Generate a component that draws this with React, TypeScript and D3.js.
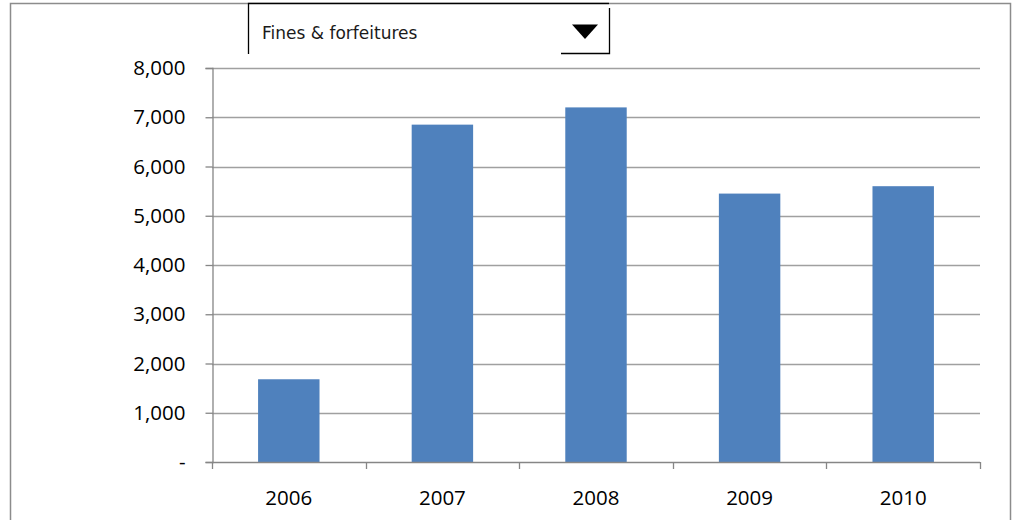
import React, { useEffect, useRef } from 'react'
import * as d3 from 'd3'

const years = ['2006', '2007', '2008', '2009', '2010']
const fines = [1680, 6850, 7200, 5450, 5600]
const yTicks = [0, 1000, 2000, 3000, 4000, 5000, 6000, 7000, 8000]
const selectedSeries = 'Fines & forfeitures'

const App: React.FC = () => {
  const svgRef = useRef<SVGSVGElement | null>(null)

  useEffect(() => {
    if (!svgRef.current) {
      return
    }

    const svg = d3.select(svgRef.current)
    const width = 1019
    const height = 520
    const plot = { left: 212, right: 980, top: 68, bottom: 462 }
    const font = "'Open Sans', 'DejaVu Sans', sans-serif"

    svg.attr('width', width).attr('height', height)
    svg.selectAll('*').remove()

    // outer chart frame
    svg
      .append('rect')
      .attr('x', 10.5)
      .attr('y', 3.5)
      .attr('width', 1000)
      .attr('height', 530)
      .attr('fill', '#ffffff')
      .attr('stroke', '#8c8c8c')
      .attr('stroke-width', 1.5)

    const xScale = d3
      .scaleBand()
      .domain(years)
      .range([plot.left, plot.right])
      .paddingInner(0.6)
      .paddingOuter(0.3)

    const yScale = d3.scaleLinear().domain([0, 8000]).range([plot.bottom, plot.top])

    // gridlines
    svg
      .append('g')
      .selectAll('line')
      .data(yTicks.filter((t) => t > 0))
      .enter()
      .append('line')
      .attr('x1', plot.left)
      .attr('x2', plot.right)
      .attr('y1', (d) => Math.round(yScale(d)) + 0.5)
      .attr('y2', (d) => Math.round(yScale(d)) + 0.5)
      .attr('stroke', '#a0a0a0')
      .attr('stroke-width', 1.3)

    // bars
    svg
      .append('g')
      .selectAll('rect')
      .data(years)
      .enter()
      .append('rect')
      .attr('x', (d) => xScale(d) ?? 0)
      .attr('y', (d, i) => yScale(fines[i]))
      .attr('width', xScale.bandwidth())
      .attr('height', (d, i) => plot.bottom - yScale(fines[i]))
      .attr('fill', '#4f81bd')

    // y axis
    const yAxis = svg
      .append('g')
      .attr('transform', `translate(${plot.left + 0.5},0)`)
      .call(
        d3
          .axisLeft(yScale)
          .tickValues(yTicks)
          .tickSize(7)
          .tickPadding(20)
          .tickFormat((d) => (d === 0 ? '-' : d3.format(',')(d as number)))
      )
    yAxis.select('.domain').attr('stroke', '#868686').attr('stroke-width', 1.3)
    yAxis.selectAll('.tick line').attr('stroke', '#868686').attr('stroke-width', 1.3)
    yAxis
      .selectAll('.tick text')
      .attr('font-family', font)
      .attr('font-size', 20.5)
      .attr('fill', '#000000')

    // x axis: ticks sit between categories
    const boundaries = d3.range(years.length + 1).map((i) => plot.left + i * xScale.step())
    const xAxis = svg.append('g')
    xAxis
      .append('line')
      .attr('x1', plot.left)
      .attr('x2', plot.right)
      .attr('y1', plot.bottom + 0.5)
      .attr('y2', plot.bottom + 0.5)
      .attr('stroke', '#868686')
      .attr('stroke-width', 1.3)
    xAxis
      .selectAll('line.tick')
      .data(boundaries)
      .enter()
      .append('line')
      .attr('class', 'tick')
      .attr('x1', (d) => Math.round(d) + 0.5)
      .attr('x2', (d) => Math.round(d) + 0.5)
      .attr('y1', plot.bottom)
      .attr('y2', plot.bottom + 7)
      .attr('stroke', '#868686')
      .attr('stroke-width', 1.3)
    xAxis
      .selectAll('text')
      .data(years)
      .enter()
      .append('text')
      .attr('x', (d) => (xScale(d) ?? 0) + xScale.bandwidth() / 2)
      .attr('y', 505)
      .attr('text-anchor', 'middle')
      .attr('font-family', font)
      .attr('font-size', 20.5)
      .attr('fill', '#000000')
      .text((d) => d)

    // dropdown control
    const dropdown = svg.append('g')
    dropdown
      .append('rect')
      .attr('x', 248)
      .attr('y', 3)
      .attr('width', 361)
      .attr('height', 51)
      .attr('fill', '#ffffff')
    dropdown
      .append('path')
      .attr('d', 'M248.5,54 V3.5 H609')
      .attr('fill', 'none')
      .attr('stroke', '#000000')
      .attr('stroke-width', 1.3)
    dropdown
      .append('path')
      .attr('d', 'M561,53.5 H609.5 V8')
      .attr('fill', 'none')
      .attr('stroke', '#000000')
      .attr('stroke-width', 1.3)
    dropdown
      .append('path')
      .attr('d', 'M572,24.5 L598,24.5 L585,39 Z')
      .attr('fill', '#000000')
    dropdown
      .append('text')
      .attr('x', 262)
      .attr('y', 39)
      .attr('font-family', "'DejaVu Sans', sans-serif")
      .attr('font-size', 17)
      .attr('fill', '#1a1a1a')
      .text(selectedSeries)
  }, [])

  return (
    <div style={{ position: 'absolute', left: 0, top: 0, width: 1019, height: 520, overflow: 'hidden' }}>
      <svg ref={svgRef} style={{ display: 'block' }} role="img" aria-label={selectedSeries} />
    </div>
  )
}

export default App
